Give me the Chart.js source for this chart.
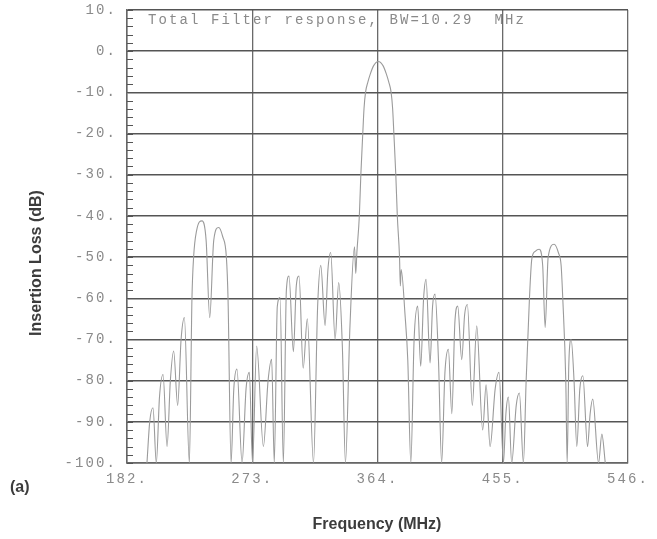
<!DOCTYPE html>
<html>
<head>
<meta charset="utf-8">
<title>Total Filter response</title>
<script src="https://cdn.jsdelivr.net/npm/chart.js@4/dist/chart.umd.min.js"></script>
<style>
  html, body { margin: 0; padding: 0; background: #ffffff; }
  #wrap { width: 657px; height: 539px; }
</style>
</head>
<body>
<div id="wrap"><canvas id="chart" width="657" height="539"></canvas></div>
<script>
// Frequency axis ticks (MHz) and loss ticks (dB)
const freqTicks = [182, 273, 364, 455, 546];
const lossRange = [-100, 10];

// Filter response trace: frequency (MHz) / insertion loss (dB)
const freqMHz = [
  196.5, 198.5, 200.9, 203.3, 205.6, 208.2, 211.1, 213.5, 215.9, 218.8,
  221.3, 223.7, 227.3, 229.2, 230.4, 232.6, 236.5, 239.5, 242.1, 245.0,
  248.6, 251.5, 254.2, 255.4, 257.6, 259.6, 261.9, 265.6, 268.5, 270.9,
  273.2, 276.2, 281.1, 284.5, 287.1, 289.0, 291.2, 293.2, 295.6, 297.8,
  299.7, 302.9, 305.0, 307.0, 310.0, 313.0, 317.5, 320.5, 322.8, 325.9,
  328.0, 330.0, 333.2, 335.8, 338.5, 340.7, 344.0, 347.3, 348.2, 349.0,
  350.8, 351.9, 353.3, 354.2, 355.3, 357.0, 358.8, 361.2, 364.6, 368.0,
  370.4, 372.2, 373.9, 375.0, 375.9, 377.3, 378.4,
  380.0, 380.6, 381.2, 384.0, 386.0, 388.2, 390.6, 393.2, 395.4,
  397.5, 399.3, 402.2, 404.0, 405.8, 408.3, 410.6, 413.0, 415.5, 418.0,
  420.2, 422.3, 425.2, 427.3, 429.3, 432.9, 436.1, 440.4, 442.9, 445.8,
  449.5, 452.3, 455.5, 457.3, 459.1, 461.5, 464.8, 467.1, 470.0, 472.0,
  474.4, 476.1, 478.6, 481.4, 484.0, 485.8, 488.0, 492.3, 495.5, 497.4,
  498.6, 500.8, 501.8, 503.0, 504.7, 506.8, 508.8, 511.0, 513.2, 516.6,
  518.5, 520.4, 524.6, 527.0, 529.5
];
const lossDb = [
  -100, -90, -86.6, -100, -84, -78.5, -96, -80, -72.8, -86,
  -70, -64.7, -100, -60, -50, -43.5, -41.2, -46, -64.7, -46,
  -42.8, -45, -50, -60, -100, -82, -77.2, -100, -82, -78,
  -100, -71.6, -96, -80, -74.8, -100, -62, -59.8, -100, -58,
  -54.6, -73, -57, -54.6, -77, -65, -100, -62, -52, -66.6,
  -53, -48.9, -70, -56.2, -72, -100, -66.7, -47.5, -54, -49,
  -40, -30, -20, -14, -10, -7.5, -5.5, -3.5, -2.5, -3.5,
  -5.5, -7.5, -10, -14, -20, -30, -40,
  -50, -57, -53, -64, -75, -100, -70, -61.9, -76.5,
  -60, -55.4, -75.7, -62, -59, -75, -100, -78, -72.4, -88,
  -66, -61.9, -74.9, -64, -61.5, -86, -66.7, -92, -81, -96,
  -82, -78, -100, -88, -84, -100, -86, -83, -100, -80,
  -60, -50.5, -48.6, -48.1, -52, -67.1, -50, -46.9, -49, -52,
  -60, -80, -100, -76, -70, -80, -96, -82, -78.8, -96,
  -88, -84.5, -100, -93, -100
];

const plotTitle = 'Total Filter response, BW=10.29  MHz';
const xTitle = 'Frequency (MHz)';
const yTitle = 'Insertion Loss (dB)';
const panelLabel = '(a)';

const MONO_FAMILY = '"Liberation Mono", "DejaVu Sans Mono", monospace';
const MONO = '14px ' + MONO_FAMILY;
const BOLD = 'bold 16px "Liberation Sans", Arial, sans-serif';

// Plotter style spaced mono text, titles and the small left ticks
const plotterDecor = {
  id: 'plotterDecor',
  beforeDraw(chart) {
    chart.ctx.letterSpacing = '2.1px';
  },
  afterDraw(chart) {
    const ctx = chart.ctx;
    const y = chart.scales.y;
    const area = chart.chartArea;

    // minor ticks every 2 dB on the inside of the left border
    ctx.save();
    ctx.strokeStyle = '#555';
    ctx.lineWidth = 1.2;
    ctx.beginPath();
    for (let v = lossRange[0]; v <= lossRange[1]; v += 2) {
      const py = Math.round(y.getPixelForValue(v)) + 0.5;
      ctx.moveTo(area.left, py);
      ctx.lineTo(area.left + 6, py);
    }
    ctx.stroke();

    // plot title inside the frame
    ctx.font = MONO;
    ctx.fillStyle = '#8a8a8a';
    ctx.textAlign = 'left';
    ctx.textBaseline = 'middle';
    ctx.fillText(plotTitle, area.left + 21, area.top + 10);

    // axis titles
    ctx.letterSpacing = '0px';
    ctx.font = BOLD;
    ctx.fillStyle = '#3c3c3c';
    ctx.textAlign = 'center';
    ctx.fillText(xTitle, 377, 525);
    ctx.textAlign = 'left';
    ctx.fillText(panelLabel, 10, 488);
    ctx.translate(37, 263);
    ctx.rotate(-Math.PI / 2);
    ctx.textAlign = 'center';
    ctx.fillText(yTitle, 0, 0);
    ctx.restore();
    ctx.letterSpacing = '0px';
  }
};

new Chart(document.getElementById('chart'), {
  type: 'line',
  data: {
    datasets: [{
      label: 'Total filter response',
      data: freqMHz.map((f, i) => ({ x: f, y: lossDb[i] })),
      borderColor: '#9b9b9b',
      borderWidth: 1.1,
      pointRadius: 0,
      fill: false,
      cubicInterpolationMode: 'monotone'
    }]
  },
  options: {
    responsive: false,
    animation: false,
    layout: { padding: { left: 0, right: 29, top: 10, bottom: 46 } },
    plugins: {
      legend: { display: false },
      tooltip: { enabled: false }
    },
    scales: {
      x: {
        type: 'linear',
        min: freqTicks[0],
        max: freqTicks[freqTicks.length - 1],
        afterBuildTicks: (scale) => { scale.ticks = freqTicks.map(v => ({ value: v })); },
        afterFit: (scale) => { scale.height = 30; },
        border: { display: true, color: '#666', width: 1.5 },
        grid: { color: '#6a6a6a', lineWidth: 1.3, drawTicks: false },
        ticks: {
          padding: 8,
          color: '#8a8a8a',
          font: { family: MONO_FAMILY, size: 14 },
          maxRotation: 0,
          callback: (v) => v + '.'
        }
      },
      y: {
        min: lossRange[0],
        max: lossRange[1],
        afterFit: (scale) => {
          scale.width = 127;
          scale.paddingTop = 0;
          scale.paddingBottom = 0;
        },
        border: { display: true, color: '#666', width: 1.5 },
        grid: { color: '#555', lineWidth: 1.5, drawTicks: false },
        ticks: {
          stepSize: 10,
          padding: 10,
          color: '#8a8a8a',
          font: { family: MONO_FAMILY, size: 14 },
          callback: (v) => v + '.'
        }
      }
    }
  },
  plugins: [plotterDecor]
});
</script>
</body>
</html>
